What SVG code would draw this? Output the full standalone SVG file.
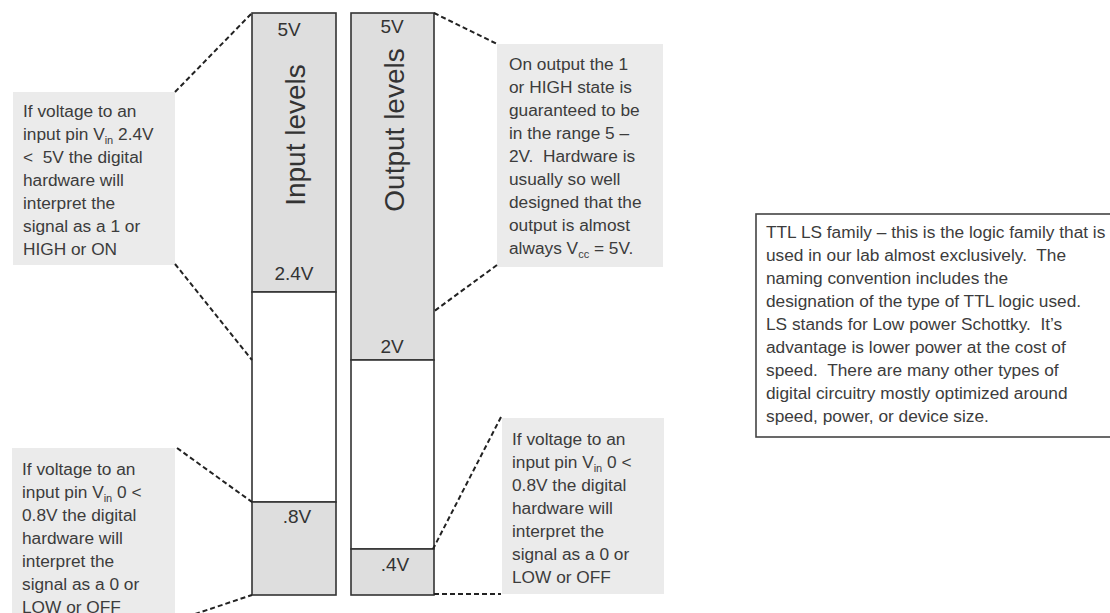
<svg xmlns="http://www.w3.org/2000/svg" width="1110" height="613" viewBox="0 0 1110 613">
<style>
.bg{fill:#ffffff}
.col{stroke:#333;stroke-width:1.6}
.g{fill:#dedede}
.w{fill:#ffffff}
.call{fill:#ebebeb}
.t{font-family:"Liberation Sans",Arial,sans-serif;font-size:17.3px;fill:#3c3c3c;white-space:pre}
.lv{font-family:"Liberation Sans",Arial,sans-serif;font-size:19px;fill:#333;text-anchor:middle}
.big{font-family:"Liberation Sans",Arial,sans-serif;font-size:28px;fill:#333;text-anchor:middle}
.dash{fill:none;stroke:#222;stroke-width:2;stroke-dasharray:5 3}
.sub{font-size:11px}
</style>
<rect class="bg" x="0" y="0" width="1110" height="613"/>

<g id="input-column">
  <rect class="col g" x="252" y="13" width="84" height="279"/>
  <rect class="col w" x="252" y="292" width="84" height="210"/>
  <rect class="col g" x="252" y="502" width="84" height="93"/>
  <text class="lv" x="289" y="36">5V</text>
  <text class="lv" x="294" y="280">2.4V</text>
  <text class="lv" x="297" y="523">.8V</text>
  <text class="big" transform="translate(305 135) rotate(-90)">Input levels</text>
</g>

<g id="output-column">
  <rect class="col g" x="351" y="13" width="83" height="347"/>
  <rect class="col w" x="351" y="360" width="83" height="189"/>
  <rect class="col g" x="351" y="549" width="83" height="46"/>
  <text class="lv" x="392" y="33">5V</text>
  <text class="lv" x="392" y="353">2V</text>
  <text class="lv" x="395" y="571">.4V</text>
  <text class="big" transform="translate(404 130) rotate(-90)">Output levels</text>
</g>

<g id="input-high-note">
  <rect class="call" x="13" y="92" width="162" height="173"/>
  <text class="t" x="23" y="117">If voltage to an</text>
  <text class="t" x="23" y="140">input pin V<tspan class="sub" dy="4">in</tspan><tspan dy="-4"> 2.4V</tspan></text>
  <text class="t" x="23" y="163">&lt;  5V the digital</text>
  <text class="t" x="23" y="186">hardware will</text>
  <text class="t" x="23" y="209">interpret the</text>
  <text class="t" x="23" y="232">signal as a 1 or</text>
  <text class="t" x="23" y="255">HIGH or ON</text>
</g>

<g id="input-low-note">
  <rect class="call" x="12" y="448" width="163" height="170"/>
  <text class="t" x="22" y="475">If voltage to an</text>
  <text class="t" x="22" y="498">input pin V<tspan class="sub" dy="4">in</tspan><tspan dy="-4"> 0 &lt;</tspan></text>
  <text class="t" x="22" y="521">0.8V the digital</text>
  <text class="t" x="22" y="544">hardware will</text>
  <text class="t" x="22" y="567">interpret the</text>
  <text class="t" x="22" y="590">signal as a 0 or</text>
  <text class="t" x="22" y="613">LOW or OFF</text>
</g>

<g id="output-high-note">
  <rect class="call" x="497" y="44" width="166" height="223"/>
  <text class="t" x="509" y="70">On output the 1</text>
  <text class="t" x="509" y="93">or HIGH state is</text>
  <text class="t" x="509" y="116">guaranteed to be</text>
  <text class="t" x="509" y="139">in the range 5 –</text>
  <text class="t" x="509" y="162">2V.  Hardware is</text>
  <text class="t" x="509" y="185">usually so well</text>
  <text class="t" x="509" y="208">designed that the</text>
  <text class="t" x="509" y="231">output is almost</text>
  <text class="t" x="509" y="254">always V<tspan class="sub" dy="4">cc</tspan><tspan dy="-4"> = 5V.</tspan></text>
</g>

<g id="output-low-note">
  <rect class="call" x="502" y="418" width="162" height="176"/>
  <text class="t" x="512" y="445">If voltage to an</text>
  <text class="t" x="512" y="468">input pin V<tspan class="sub" dy="4">in</tspan><tspan dy="-4"> 0 &lt;</tspan></text>
  <text class="t" x="512" y="491">0.8V the digital</text>
  <text class="t" x="512" y="514">hardware will</text>
  <text class="t" x="512" y="537">interpret the</text>
  <text class="t" x="512" y="560">signal as a 0 or</text>
  <text class="t" x="512" y="583">LOW or OFF</text>
</g>

<g id="ttl-note">
  <rect x="756" y="214" width="370" height="223" fill="#ffffff" stroke="#444" stroke-width="1.6"/>
  <text class="t" x="766" y="238">TTL LS family – this is the logic family that is</text>
  <text class="t" x="766" y="261">used in our lab almost exclusively.  The</text>
  <text class="t" x="766" y="284">naming convention includes the</text>
  <text class="t" x="766" y="307">designation of the type of TTL logic used.</text>
  <text class="t" x="766" y="330">LS stands for Low power Schottky.  It’s</text>
  <text class="t" x="766" y="353">advantage is lower power at the cost of</text>
  <text class="t" x="766" y="376">speed.  There are many other types of</text>
  <text class="t" x="766" y="399">digital circuitry mostly optimized around</text>
  <text class="t" x="766" y="422">speed, power, or device size.</text>
</g>

<g id="connectors">
  <line class="dash" x1="175" y1="92" x2="252" y2="13"/>
  <line class="dash" x1="175" y1="264" x2="252" y2="360"/>
  <line class="dash" x1="177" y1="448" x2="252" y2="502"/>
  <line class="dash" x1="195" y1="614" x2="252" y2="595"/>
  <line class="dash" x1="434" y1="13" x2="497" y2="44"/>
  <line class="dash" x1="497" y1="265" x2="433" y2="312"/>
  <line class="dash" x1="501" y1="417" x2="433" y2="549"/>
  <line class="dash" x1="434" y1="594" x2="501" y2="594"/>
</g>
</svg>
